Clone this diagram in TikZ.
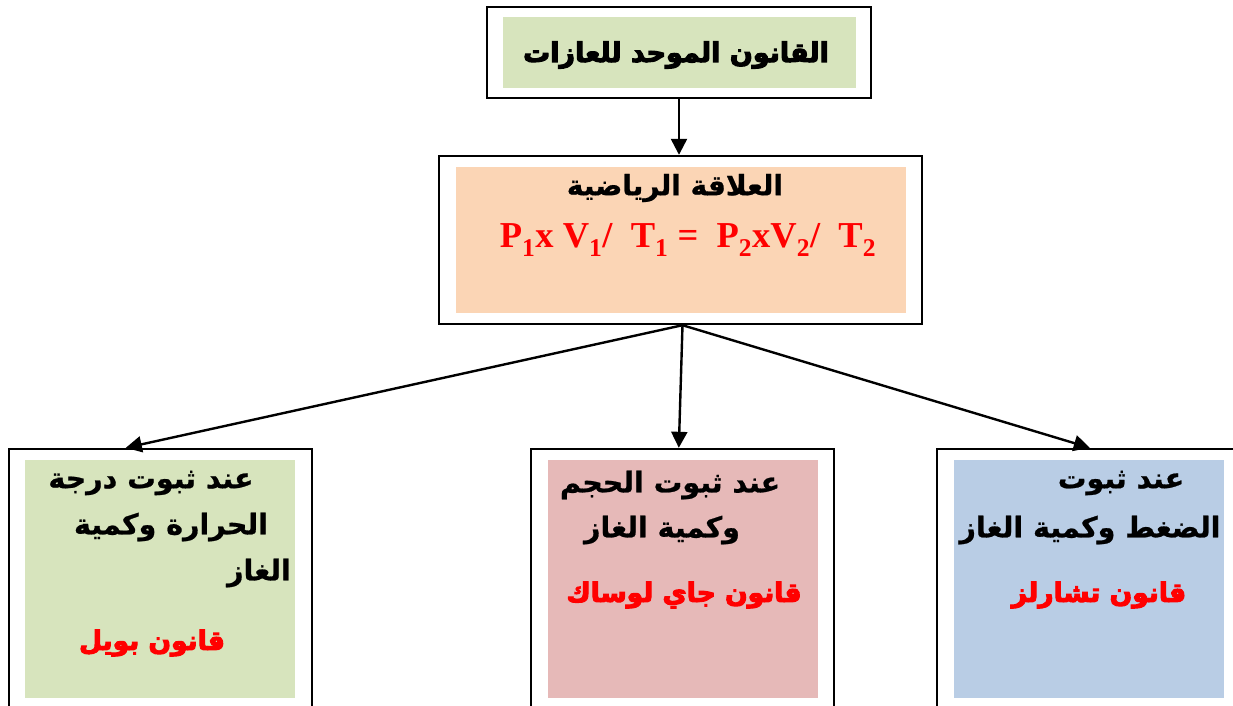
\documentclass[tikz,border=0pt]{standalone}
\usepackage{fontspec}
\usetikzlibrary{arrows.meta,calc}
\TeXXeTstate=1
\newfontfamily\arabicfont[Script=Arabic,BoldFeatures={FakeBold=0.8}]{DejaVu Sans}
\newfontfamily\arabicheavy[Script=Arabic,BoldFeatures={FakeBold=4}]{DejaVu Sans}
\newfontfamily\formfont{Liberation Serif}
\definecolor{boxgreen}{HTML}{D7E4BD}
\definecolor{boxpeach}{HTML}{FBD5B5}
\definecolor{boxpink}{HTML}{E6B9B8}
\definecolor{boxblue}{HTML}{B9CDE5}
\definecolor{lawred}{HTML}{FF0000}
\tikzset{
  outerbox/.style={draw=black, line width=2.4pt, fill=white, inner sep=0pt, rectangle},
  conn/.style={line width=2.4pt, -{Triangle[width=16pt,length=16pt]}},
  artext/.style={inner sep=0pt, font=\arabicfont\bfseries\fontsize{28.5}{32}\selectfont},
  redtext/.style={inner sep=0pt, text=lawred, font=\arabicheavy\bfseries\fontsize{26.5}{30}\selectfont},
}
\begin{document}
\begin{tikzpicture}[x=1pt,y=-1pt]
\useasboundingbox (0,0) rectangle (1233,706);
\clip (0,0) rectangle (1233,706);
% top box
\node[outerbox, minimum width=384pt, minimum height=91pt] (top) at (679,52.5) {};
\fill[boxgreen] (503,17) rectangle (856,88);
\node[inner sep=0pt, font=\arabicheavy\bfseries\fontsize{27}{32}\selectfont] (toptxt) at (676,55) {\beginR القانون الموحد للعازات\endR};
% middle box
\node[outerbox, minimum width=483pt, minimum height=168pt] (mid) at (680.5,240) {};
\fill[boxpeach] (456,167) rectangle (906,313);
\node[artext, font=\arabicfont\bfseries\fontsize{28}{32}\selectfont] (midtitle) at (675,188) {\beginR العلاقة الرياضية\endR};
\node[inner sep=0pt, text=lawred, font=\formfont\bfseries\fontsize{36.5}{40}\selectfont] (formula) at (688,240)
  {P\textsubscript{1}x V\textsubscript{1}/\ \ T\textsubscript{1} =\ \ P\textsubscript{2}xV\textsubscript{2}/\ \ T\textsubscript{2}};
% bottom boxes
\node[outerbox, minimum width=303pt, minimum height=280pt] (bl) at (160.5,589) {};
\fill[boxgreen] (25,460) rectangle (295,698);
\node[outerbox, minimum width=303pt, minimum height=280pt] (bm) at (682.5,589) {};
\fill[boxpink] (548,460) rectangle (818,698);
\node[outerbox, minimum width=303pt, minimum height=280pt] (br) at (1088.5,589) {};
\fill[boxblue] (954,460) rectangle (1224,698);
% left texts
\node[artext] (l1) at (151,483) {\beginR عند ثبوت درجة\endR};
\node[artext] (l2) at (171,527) {\beginR الحرارة وكمية\endR};
\node[artext] (l3) at (259,573) {\beginR الغاز\endR};
\node[redtext] (l4) at (152,643) {\beginR قانون بويل\endR};
% middle texts
\node[artext] (m1) at (670,485) {\beginR عند ثبوت الحجم\endR};
\node[artext] (m2) at (662,530) {\beginR وكمية الغاز\endR};
\node[redtext] (m3) at (684,595) {\beginR قانون جاي لوساك\endR};
% right texts
\node[artext] (r1) at (1121,483) {\beginR عند ثبوت\endR};
\node[artext] (r2) at (1090,530) {\beginR الضغط وكمية الغاز\endR};
\node[redtext] (r3) at (1099,595) {\beginR قانون تشارلز\endR};
% connectors
\coordinate (fork) at ($(mid.south)+(2,0)$);
\coordinate (blin) at ($(bl.north west)+(118,0)$);
\coordinate (bmin) at ($(bm.north west)+(149,0)$);
\coordinate (brin) at ($(br.north west)+(154,0)$);
\draw[conn] (top.south) -- (top.south |- mid.north);
\draw[conn] (fork) -- (blin);
\draw[conn] (fork) -- (bmin);
\draw[conn] (fork) -- (brin);
\end{tikzpicture}
\end{document}
